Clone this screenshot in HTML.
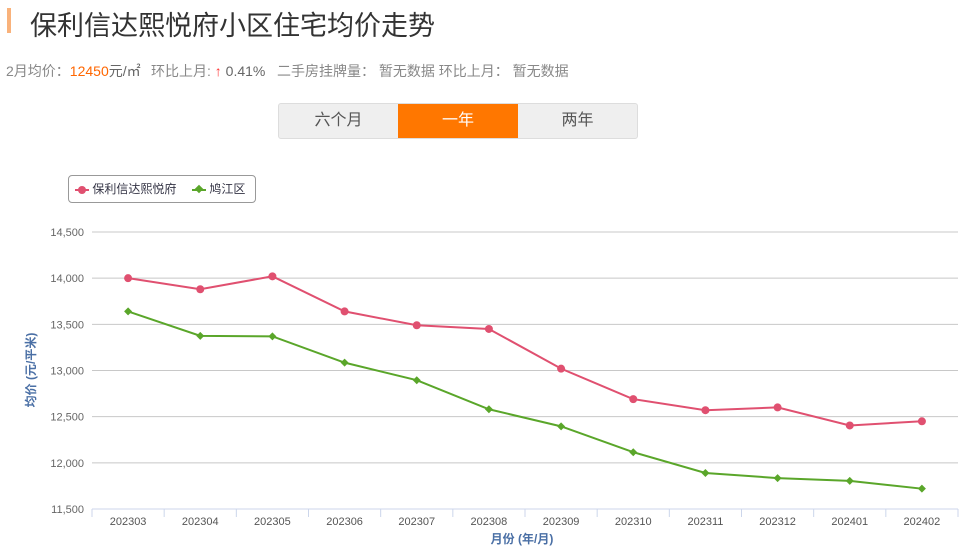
<!DOCTYPE html>
<html><head><meta charset="utf-8"><style>
body{margin:0;width:966px;height:553px;background:#fff;font-family:"Liberation Sans","Noto Sans CJK SC",sans-serif;position:relative;overflow:hidden}
.a{position:absolute}
</style></head><body>
<div class="a" style="left:7px;top:8px;width:4px;height:25px;background:#f9b27b"></div>
<div class="a" style="left:30px;top:4px;font-size:27px;color:#333">保利信达熙悦府小区住宅均价走势</div>
<div class="a" style="left:6px;top:61px;font-size:14px;color:#888;white-space:nowrap">2月均价：<span style="color:#f60">12450</span><span style="color:#666">元/㎡</span></div>
<div class="a" style="left:151px;top:61px;font-size:14px;color:#888;white-space:nowrap">环比上月: <span style="color:#f33">↑</span><span style="color:#666"> 0.41%</span></div>
<div class="a" style="left:277px;top:61px;font-size:14px;color:#888;white-space:nowrap">二手房挂牌量： 暂无数据 环比上月： 暂无数据</div>
<div class="a" style="left:278px;top:103px;width:358px;height:34px;border:1px solid #ddd;border-radius:3px;background:#efefef;display:flex;font-size:16px;color:#555;line-height:34px;text-align:center;overflow:hidden">
<div style="width:119px">六个月</div>
<div style="width:120px;background:#f70;color:#fff">一年</div>
<div style="width:119px">两年</div>
</div>
<div class="a" style="left:68px;top:175px;width:186px;height:26px;border:1px solid #999;border-radius:4px;font-size:12px;color:#334;line-height:26px">
<span style="position:absolute;left:6px;white-space:nowrap"><span style="display:inline-block;width:14px;height:2px;background:#e05070;vertical-align:middle;position:relative"><span style="position:absolute;left:3px;top:-3px;width:8px;height:8px;border-radius:50%;background:#e05070"></span></span> 保利信达熙悦府</span>
<span style="position:absolute;left:123px;white-space:nowrap"><span style="display:inline-block;width:14px;height:2px;background:#5aa62a;vertical-align:middle;position:relative"><span style="position:absolute;left:4px;top:-3px;width:6px;height:6px;background:#5aa62a;transform:rotate(45deg)"></span></span> 鸠江区</span>
</div>
<svg class="a" style="left:0;top:0" width="966" height="553" id="chart"></svg>
<script>
const categories=["202303","202304","202305","202306","202307","202308","202309","202310","202311","202312","202401","202402"];
const projectValues=[14000,13880,14020,13640,13490,13450,13020,12690,12570,12600,12405,12450];
const districtValues=[13640,13375,13370,13085,12895,12580,12395,12115,11890,11835,11805,11720];
const yTicks=[11500,12000,12500,13000,13500,14000,14500];
const NS="http://www.w3.org/2000/svg",svg=document.getElementById('chart');
const L=92,R=958,T=232,B=509,ymin=11500,ymax=14500;
const cw=(R-L)/categories.length;
const x=i=>L+cw*(i+0.5);
const y=v=>B-(v-ymin)/(ymax-ymin)*(B-T);
function mk(t,a){const e=document.createElementNS(NS,t);for(const k in a)e.setAttribute(k,a[k]);svg.appendChild(e);return e;}
yTicks.forEach(v=>{
const g=mk('line',{x1:L,x2:R,y1:y(v),y2:y(v),stroke:v===ymin?'#ccd6eb':'#c8c8c8','stroke-width':1});


const t=mk('text',{x:L-8,y:y(v)+4,'text-anchor':'end','font-size':11,fill:'#666','font-family':'Liberation Sans'});
t.textContent=v.toLocaleString('en-US');


});
for(let i=0;i<=categories.length;i++){
const tk=mk('line',{x1:L+cw*i,x2:L+cw*i,y1:B,y2:B+8,stroke:'#ccd6eb'});


}
categories.forEach((c,i)=>{
const t=mk('text',{x:x(i),y:B+16,'text-anchor':'middle','font-size':11,fill:'#555','font-family':'Liberation Sans'});
t.textContent=c;


});
const yt=mk('text',{transform:'translate(35,370) rotate(-90)','text-anchor':'middle','font-size':12,fill:'#4a6fa5','font-weight':'bold','font-family':'Liberation Sans, Noto Sans CJK SC, sans-serif'});
yt.textContent='均价 (元/平米)';


const xt=mk('text',{x:522,y:543,'text-anchor':'middle','font-size':12,fill:'#4a6fa5','font-weight':'bold','font-family':'Liberation Sans, Noto Sans CJK SC, sans-serif'});
xt.textContent='月份 (年/月)';


function series(vals,color,name,diamond){
const p=mk('polyline',{points:vals.map((v,i)=>x(i)+','+y(v)).join(' '),fill:'none',stroke:color,'stroke-width':2});


vals.forEach((v,i)=>{
let m;
if(diamond){const cx=x(i),cy=y(v);m=mk('polygon',{points:`${cx},${cy-4} ${cx+4},${cy} ${cx},${cy+4} ${cx-4},${cy}`,fill:color});}
else m=mk('circle',{cx:x(i),cy:y(v),r:4,fill:color});


});
}
series(districtValues,'#5aa62a','district',true);
series(projectValues,'#e05070','project',false);
</script>
</body></html>
